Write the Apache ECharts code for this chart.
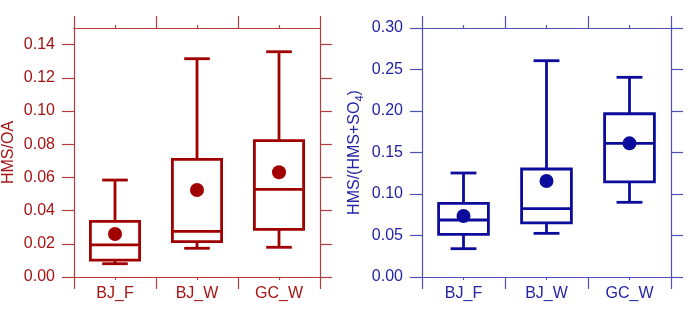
<!DOCTYPE html>
<html>
<head>
<meta charset="utf-8">
<script src="https://cdn.jsdelivr.net/npm/echarts@6/dist/echarts.min.js"></script>
<style>
html,body{margin:0;padding:0;background:#fff;}
#c{width:700px;height:316px;}
</style>
</head>
<body>
<div id="c"></div>
<script>
// ---- data ----
const categories = ['BJ_F', 'BJ_W', 'GC_W'];

// HMS/OA (left panel)
const oaMin    = [0.0080, 0.0173, 0.0179];
const oaQ1     = [0.0102, 0.0213, 0.0287];
const oaMedian = [0.0193, 0.0275, 0.0528];
const oaQ3     = [0.0335, 0.0709, 0.0821];
const oaMax    = [0.0584, 0.1315, 0.1357];
const oaMean   = [0.0259, 0.0524, 0.0631];

// HMS/(HMS+SO4) (right panel)
const soMin    = [0.0341, 0.0526, 0.0900];
const soQ1     = [0.0514, 0.0651, 0.1145];
const soMedian = [0.0687, 0.0823, 0.1610];
const soQ3     = [0.0888, 0.1301, 0.1967];
const soMax    = [0.1253, 0.2606, 0.2406];
const soMean   = [0.0735, 0.1157, 0.1610];

// tick labels
const oaTicks = [0.00, 0.02, 0.04, 0.06, 0.08, 0.10, 0.12, 0.14];
const soTicks = [0.00, 0.05, 0.10, 0.15, 0.20, 0.25, 0.30];

// ---- styles ----
const FONT = 'Liberation Sans, Arial, sans-serif';
const RED = '#a00000', RED_AX = '#b43c3c', RED_TX = '#a51414';
const BLUE = '#0c0c9c', BLUE_AX = '#5050bb', BLUE_TX = '#2424a4';

function rows(mn, q1, md, q3, mx, mean) {
  return categories.map((c, i) => [i, mn[i], q1[i], md[i], q3[i], mx[i], mean[i]]);
}

function renderer(color) {
  return function (params, api) {
    const i = api.value(0);
    const v = [1, 2, 3, 4, 5, 6].map(k => api.value(k));
    const p = v.map(val => api.coord([i, val]));
    const cx = p[0][0];
    const bw = api.size([1, 0])[0] * 0.6;
    const cw = bw * 0.52;
    const lw = 2.8;
    const st = { stroke: color, lineWidth: lw, fill: null };
    const yMin = p[0][1], yQ1 = p[1][1], yMd = p[2][1], yQ3 = p[3][1], yMax = p[4][1], yMean = p[5][1];
    return {
      type: 'group',
      children: [
        { type: 'line', shape: { x1: cx, y1: yQ3, x2: cx, y2: yMax }, style: st },
        { type: 'line', shape: { x1: cx, y1: yQ1, x2: cx, y2: yMin }, style: st },
        { type: 'line', shape: { x1: cx - cw / 2, y1: yMax, x2: cx + cw / 2, y2: yMax }, style: st },
        { type: 'line', shape: { x1: cx - cw / 2, y1: yMin, x2: cx + cw / 2, y2: yMin }, style: st },
        { type: 'rect', shape: { x: cx - bw / 2, y: yQ3, width: bw, height: yQ1 - yQ3 }, style: { stroke: color, lineWidth: lw, fill: '#fff' } },
        { type: 'line', shape: { x1: cx - bw / 2, y1: yMd, x2: cx + bw / 2, y2: yMd }, style: st },
        { type: 'circle', shape: { cx: cx, cy: yMean, r: 7 }, style: { fill: color } }
      ]
    };
  };
}

function xAxes(g, axColor, txColor) {
  const line = { show: true, lineStyle: { color: axColor, width: 1.2 } };
  return [
    { type: 'category', gridIndex: g, data: categories, position: 'bottom', boundaryGap: true,
      axisLine: line, axisTick: { show: true, length: 12, lineStyle: { color: axColor, width: 1.2 } },
      axisLabel: { color: txColor, fontSize: 16, fontFamily: FONT, margin: 9 }, splitLine: { show: false } },
    { type: 'category', gridIndex: g, data: categories, position: 'bottom', boundaryGap: true,
      axisLine: { show: false }, axisTick: { show: true, alignWithLabel: true, length: 3, lineStyle: { color: axColor, width: 1.2 } },
      axisLabel: { show: false }, splitLine: { show: false } },
    { type: 'category', gridIndex: g, data: categories, position: 'top', boundaryGap: true,
      axisLine: line, axisTick: { show: true, length: 12, lineStyle: { color: axColor, width: 1.2 } },
      axisLabel: { show: false }, splitLine: { show: false } },
    { type: 'category', gridIndex: g, data: categories, position: 'top', boundaryGap: true,
      axisLine: { show: false }, axisTick: { show: true, alignWithLabel: true, length: 3, lineStyle: { color: axColor, width: 1.2 } },
      axisLabel: { show: false }, splitLine: { show: false } }
  ];
}

function yAxes(g, max, interval, ticks, name, axColor, txColor, rich) {
  const line = { show: true, lineStyle: { color: axColor, width: 1.2 } };
  const tick = { show: true, length: 12, customValues: ticks, lineStyle: { color: axColor, width: 1.2 } };
  return [
    { type: 'value', gridIndex: g, position: 'left', min: 0, max: max, interval: interval,
      axisLine: line, axisTick: tick, splitLine: { show: false },
      axisLabel: { color: txColor, fontSize: 16, fontFamily: FONT, margin: 19, customValues: ticks,
                   formatter: v => v.toFixed(2) },
      name: name, nameLocation: 'middle', nameGap: 57, nameRotate: 90,
      nameTextStyle: { color: txColor, fontSize: 16, fontFamily: FONT, rich: rich } },
    { type: 'value', gridIndex: g, position: 'right', min: 0, max: max, interval: interval,
      axisLine: line, axisTick: tick, splitLine: { show: false }, axisLabel: { show: false } }
  ];
}

const subRich = {
  sub: { fontSize: 11, fontFamily: FONT, color: BLUE_TX, verticalAlign: 'bottom', padding: [10, 0, 0, 0] }
};

const option = {
  animation: false,
  backgroundColor: '#fff',
  textStyle: { fontFamily: FONT },
  grid: [
    { left: 72, top: 28, width: 248, height: 249 },
    { left: 422, top: 28, width: 249, height: 249 }
  ],
  xAxis: [].concat(xAxes(0, RED_AX, RED_TX), xAxes(1, BLUE_AX, BLUE_TX)),
  yAxis: [].concat(
    yAxes(0, 0.15, 0.01, oaTicks, 'HMS/OA', RED_AX, RED_TX, {}),
    yAxes(1, 0.30, 0.05, soTicks, 'HMS/(HMS+SO{sub|4})', BLUE_AX, BLUE_TX, subRich)
  ),
  series: [
    { type: 'custom', xAxisIndex: 0, yAxisIndex: 0, renderItem: renderer(RED),
      encode: { x: 0, y: [1, 2, 3, 4, 5, 6] },
      data: rows(oaMin, oaQ1, oaMedian, oaQ3, oaMax, oaMean), clip: false, z: 5 },
    { type: 'custom', xAxisIndex: 4, yAxisIndex: 2, renderItem: renderer(BLUE),
      encode: { x: 0, y: [1, 2, 3, 4, 5, 6] },
      data: rows(soMin, soQ1, soMedian, soQ3, soMax, soMean), clip: false, z: 5 }
  ]
};

const chart = echarts.init(document.getElementById('c'), null, { renderer: 'canvas', devicePixelRatio: 1 });
chart.setOption(option);
</script>
</body>
</html>
